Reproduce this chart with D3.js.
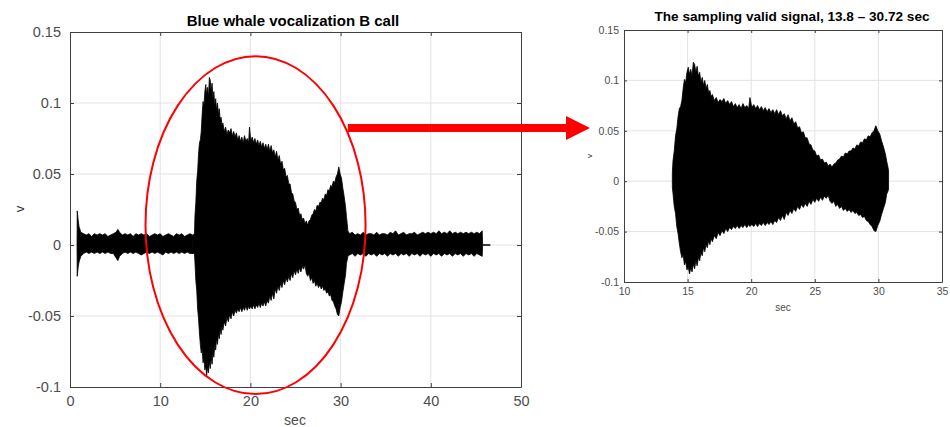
<!DOCTYPE html>
<html>
<head>
<meta charset="utf-8">
<script src="https://cdn.jsdelivr.net/npm/d3@7"></script>
<style>
  body { margin: 0; background: #fff; }
  svg { display: block; font-family: "Liberation Sans", Arial, sans-serif; }
</style>
</head>
<body>
<svg id="chart" width="950" height="427"></svg>
<script>
// titles and tick values
const leftTitle = "Blue whale vocalization B call";
const rightTitle = "The sampling valid signal, 13.8 \u2013 30.72 sec";
const leftXTicks = [0, 10, 20, 30, 40, 50];
const rightXTicks = [10, 15, 20, 25, 30, 35];
const yTicks = [-0.1, -0.05, 0, 0.05, 0.1, 0.15];

// waveform envelope: [sec, upper v, lower v]
const preNoise = [
  [0.78, 0, 0], [0.8, 0.024, -0.022], [0.9, 0.018, -0.016], [1.0, 0.013, -0.012],
  [1.2, 0.009, -0.008], [1.5, 0.008, -0.006], [1.8, 0.007, -0.005], [2.1, 0.008, -0.006],
  [2.4, 0.006, -0.005], [2.7, 0.008, -0.006], [3.0, 0.007, -0.005], [3.3, 0.008, -0.006],
  [3.6, 0.007, -0.005], [3.9, 0.008, -0.006], [4.2, 0.006, -0.005], [4.5, 0.007, -0.006],
  [4.8, 0.008, -0.006], [5.1, 0.009, -0.009], [5.3, 0.011, -0.011], [5.5, 0.009, -0.008],
  [5.8, 0.007, -0.006], [6.1, 0.008, -0.005], [6.4, 0.007, -0.006], [6.7, 0.008, -0.005],
  [7.0, 0.006, -0.006], [7.3, 0.008, -0.005], [7.6, 0.007, -0.006], [7.9, 0.008, -0.007],
  [8.2, 0.007, -0.006], [8.5, 0.008, -0.005], [8.8, 0.006, -0.006], [9.1, 0.007, -0.005],
  [9.4, 0.008, -0.006], [9.7, 0.007, -0.005], [10.0, 0.008, -0.006], [10.3, 0.006, -0.007],
  [10.6, 0.007, -0.005], [10.9, 0.008, -0.006], [11.2, 0.007, -0.005], [11.5, 0.006, -0.006],
  [11.8, 0.008, -0.005], [12.1, 0.007, -0.006], [12.4, 0.008, -0.005], [12.7, 0.006, -0.006],
  [13.0, 0.007, -0.005], [13.3, 0.008, -0.006], [13.6, 0.007, -0.006]
];

const callSignal = [
  [13.80, 0.008, -0.006], [13.85, 0.020, -0.012], [13.95, 0.030, -0.025], [14.05, 0.045, -0.032],
  [14.15, 0.052, -0.045], [14.25, 0.064, -0.052], [14.35, 0.072, -0.062], [14.45, 0.074, -0.070],
  [14.55, 0.080, -0.076], [14.65, 0.092, -0.073], [14.75, 0.101, -0.083], [14.85, 0.098, -0.080],
  [14.95, 0.108, -0.088], [15.05, 0.113, -0.085], [15.15, 0.106, -0.092], [15.25, 0.111, -0.086],
  [15.35, 0.104, -0.090], [15.45, 0.118, -0.082], [15.55, 0.116, -0.087], [15.65, 0.108, -0.079],
  [15.75, 0.114, -0.084], [15.85, 0.104, -0.076], [15.95, 0.108, -0.079], [16.05, 0.098, -0.071],
  [16.15, 0.103, -0.074], [16.25, 0.095, -0.066], [16.35, 0.100, -0.070], [16.45, 0.092, -0.063],
  [16.55, 0.096, -0.066], [16.65, 0.088, -0.059], [16.75, 0.090, -0.063], [16.85, 0.084, -0.057],
  [16.95, 0.086, -0.060], [17.10, 0.080, -0.054], [17.25, 0.083, -0.057], [17.40, 0.078, -0.051],
  [17.55, 0.081, -0.054], [17.70, 0.079, -0.049], [17.85, 0.082, -0.052], [18.00, 0.077, -0.047],
  [18.15, 0.080, -0.050], [18.30, 0.076, -0.046], [18.45, 0.079, -0.048], [18.60, 0.074, -0.045],
  [18.75, 0.077, -0.047], [18.90, 0.073, -0.044], [19.05, 0.076, -0.047], [19.20, 0.072, -0.044],
  [19.35, 0.077, -0.046], [19.50, 0.073, -0.043], [19.65, 0.075, -0.046], [19.80, 0.072, -0.043],
  [19.90, 0.083, -0.045], [20.05, 0.073, -0.043], [20.20, 0.076, -0.045], [20.35, 0.072, -0.042],
  [20.50, 0.075, -0.045], [20.65, 0.071, -0.042], [20.80, 0.074, -0.044], [20.95, 0.070, -0.041],
  [21.10, 0.073, -0.044], [21.25, 0.069, -0.041], [21.40, 0.072, -0.043], [21.55, 0.068, -0.040],
  [21.70, 0.071, -0.043], [21.85, 0.067, -0.039], [22.00, 0.071, -0.041], [22.15, 0.066, -0.036],
  [22.30, 0.070, -0.039], [22.45, 0.065, -0.034], [22.60, 0.067, -0.038], [22.75, 0.062, -0.031],
  [22.90, 0.066, -0.034], [23.05, 0.060, -0.029], [23.20, 0.063, -0.032], [23.35, 0.057, -0.027],
  [23.50, 0.059, -0.030], [23.65, 0.053, -0.025], [23.80, 0.054, -0.028], [23.95, 0.048, -0.023],
  [24.10, 0.049, -0.026], [24.25, 0.043, -0.022], [24.40, 0.043, -0.025], [24.55, 0.037, -0.020],
  [24.70, 0.036, -0.023], [24.85, 0.031, -0.018], [25.00, 0.030, -0.021], [25.15, 0.025, -0.017],
  [25.30, 0.026, -0.020], [25.45, 0.021, -0.016], [25.60, 0.022, -0.019], [25.75, 0.018, -0.015],
  [25.90, 0.019, -0.017], [26.05, 0.015, -0.014], [26.20, 0.017, -0.020], [26.35, 0.014, -0.022],
  [26.50, 0.017, -0.020], [26.65, 0.018, -0.025], [26.80, 0.021, -0.023], [26.95, 0.022, -0.027],
  [27.10, 0.025, -0.025], [27.25, 0.024, -0.029], [27.40, 0.028, -0.027], [27.55, 0.027, -0.030],
  [27.70, 0.030, -0.028], [27.85, 0.030, -0.031], [28.00, 0.033, -0.029], [28.15, 0.032, -0.032],
  [28.30, 0.036, -0.031], [28.45, 0.035, -0.034], [28.60, 0.039, -0.033], [28.75, 0.038, -0.036],
  [28.90, 0.042, -0.035], [29.05, 0.041, -0.039], [29.20, 0.045, -0.040], [29.35, 0.044, -0.043],
  [29.50, 0.048, -0.045], [29.65, 0.050, -0.049], [29.80, 0.055, -0.050], [29.95, 0.050, -0.044],
  [30.10, 0.047, -0.040], [30.25, 0.040, -0.033], [30.40, 0.034, -0.027], [30.55, 0.027, -0.021],
  [30.65, 0.020, -0.013], [30.75, 0.014, -0.010], [30.80, 0.010, -0.008]
];

const postNoise = [
  [31.0, 0.008, -0.007], [31.3, 0.009, -0.006], [31.6, 0.007, -0.008], [31.9, 0.008, -0.006],
  [32.2, 0.007, -0.007], [32.5, 0.009, -0.006], [32.8, 0.007, -0.008], [33.1, 0.008, -0.006],
  [33.4, 0.008, -0.007], [33.7, 0.007, -0.006], [34.0, 0.009, -0.008], [34.3, 0.007, -0.006],
  [34.6, 0.008, -0.007], [34.9, 0.008, -0.006], [35.2, 0.007, -0.008], [35.5, 0.009, -0.006],
  [35.8, 0.008, -0.007], [36.1, 0.010, -0.006], [36.4, 0.007, -0.008], [36.7, 0.008, -0.006],
  [37.0, 0.009, -0.007], [37.3, 0.007, -0.006], [37.6, 0.008, -0.008], [37.9, 0.008, -0.006],
  [38.2, 0.009, -0.007], [38.5, 0.007, -0.006], [38.8, 0.008, -0.008], [39.1, 0.009, -0.006],
  [39.4, 0.008, -0.007], [39.7, 0.009, -0.006], [40.0, 0.008, -0.008], [40.3, 0.009, -0.006],
  [40.6, 0.008, -0.007], [40.9, 0.010, -0.006], [41.2, 0.008, -0.008], [41.5, 0.009, -0.006],
  [41.8, 0.008, -0.007], [42.1, 0.010, -0.006], [42.4, 0.008, -0.008], [42.7, 0.009, -0.006],
  [43.0, 0.008, -0.007], [43.3, 0.009, -0.006], [43.6, 0.008, -0.008], [43.9, 0.009, -0.006],
  [44.2, 0.008, -0.007], [44.5, 0.009, -0.006], [44.8, 0.008, -0.008], [45.1, 0.009, -0.006],
  [45.4, 0.008, -0.007], [45.7, 0.010, -0.008], [45.75, 0, 0]
];
const tailLine = [[45.75, 0], [46.6, 0]];

// annotation: ellipse [center sec, center v, radius sec, radius v], arrow start [sec, v]
const ellipseMark = [20.57, 0.014, 12.2, 0.119];
const arrowStart = [30.8, 0.0824];

const svg = d3.select("#chart");
const axisColor = "#404040";
const textColor = "#4d4d4d";
const gridColor = "#e3e3e3";

const fmt = (d) => String(+d.toFixed(2)).replace("\u2212", "-");

function panel(opts) {
  const { x, y, xTicks, fontSize, tick } = opts;
  const g = svg.append("g");
  const [x0, x1] = x.range();
  const [y0, y1] = y.range();

  // grid
  g.append("g").selectAll("line").data(xTicks.slice(1, -1)).join("line")
    .attr("x1", (d) => x(d)).attr("x2", (d) => x(d))
    .attr("y1", y0).attr("y2", y1)
    .attr("stroke", gridColor).attr("stroke-width", 1);
  g.append("g").selectAll("line").data(yTicks.slice(1, -1)).join("line")
    .attr("y1", (d) => y(d)).attr("y2", (d) => y(d))
    .attr("x1", x0).attr("x2", x1)
    .attr("stroke", gridColor).attr("stroke-width", 1);

  const wave = g.append("g");

  // axes (ticks point inward, like a matlab box)
  const axB = d3.axisBottom(x).tickValues(xTicks).tickSizeInner(-tick).tickSizeOuter(0).tickPadding(opts.xPad).tickFormat(fmt);
  const axT = d3.axisTop(x).tickValues(xTicks).tickSizeInner(-tick).tickSizeOuter(0).tickFormat("");
  const axL = d3.axisLeft(y).tickValues(yTicks).tickSizeInner(-tick).tickSizeOuter(0).tickPadding(opts.yPad).tickFormat(fmt);
  const axR = d3.axisRight(y).tickValues(yTicks).tickSizeInner(-tick).tickSizeOuter(0).tickFormat("");
  const ax = g.append("g");
  ax.append("g").attr("transform", `translate(0,${y0})`).call(axB);
  ax.append("g").attr("transform", `translate(0,${y1})`).call(axT);
  ax.append("g").attr("transform", `translate(${x0},0)`).call(axL);
  ax.append("g").attr("transform", `translate(${x1},0)`).call(axR);
  ax.selectAll(".domain").attr("stroke", axisColor).attr("stroke-width", 1);
  ax.selectAll(".tick line").attr("stroke", axisColor);
  ax.selectAll(".tick text").attr("fill", textColor)
    .style("font-family", "'Liberation Sans', Arial, sans-serif")
    .style("font-size", fontSize + "px");

  return wave;
}

function drawWave(layer, x, y, rows) {
  const area = d3.area()
    .x((d) => x(d[0]))
    .y0((d) => y(d[2]))
    .y1((d) => y(d[1]));
  layer.append("path").datum(rows)
    .attr("d", area)
    .attr("fill", "#000")
    .attr("stroke", "#000")
    .attr("stroke-width", 0.8)
    .attr("stroke-linejoin", "round");
}

// left panel
const xL = d3.scaleLinear().domain([0, 50]).range([70, 521]);
const yL = d3.scaleLinear().domain([-0.1, 0.15]).range([387, 32]);
const waveL = panel({ x: xL, y: yL, xTicks: leftXTicks, fontSize: 14.5, tick: 4, xPad: 9, yPad: 9 });
drawWave(waveL, xL, yL, preNoise);
drawWave(waveL, xL, yL, [preNoise[preNoise.length - 1], ...callSignal, ...postNoise]);
waveL.append("path").datum(tailLine)
  .attr("d", d3.line().x((d) => xL(d[0])).y((d) => yL(d[1])))
  .attr("stroke", "#000").attr("stroke-width", 1.5).attr("fill", "none");

svg.append("text").attr("x", 293).attr("y", 26).attr("text-anchor", "middle")
  .style("font-size", "15px").style("font-weight", "bold").attr("fill", "#000")
  .text(leftTitle);
svg.append("text").attr("x", 295).attr("y", 425).attr("text-anchor", "middle")
  .style("font-size", "14px").attr("fill", textColor).text("sec");
svg.append("text").attr("transform", "translate(24,209) rotate(-90)").attr("text-anchor", "middle")
  .style("font-size", "13px").attr("fill", "#333").text("v");

// right panel
const xR = d3.scaleLinear().domain([10, 35]).range([624, 942]);
const yR = d3.scaleLinear().domain([-0.1, 0.15]).range([282, 30]);
const waveR = panel({ x: xR, y: yR, xTicks: rightXTicks, fontSize: 10.5, tick: 3, xPad: 6, yPad: 5 });
drawWave(waveR, xR, yR, callSignal);

svg.append("text").attr("x", 792).attr("y", 21).attr("text-anchor", "middle")
  .style("font-size", "13.6px").style("font-weight", "bold").attr("fill", "#000")
  .text(rightTitle);
svg.append("text").attr("x", 783).attr("y", 311).attr("text-anchor", "middle")
  .style("font-size", "10px").attr("fill", textColor).text("sec");
svg.append("text").attr("transform", "translate(592,156) rotate(-90)").attr("text-anchor", "middle")
  .style("font-size", "8px").attr("fill", "#333").text("v");

// red ellipse around the call
svg.append("ellipse")
  .attr("cx", xL(ellipseMark[0])).attr("cy", yL(ellipseMark[1]))
  .attr("rx", xL(ellipseMark[2]) - xL(0)).attr("ry", yL(0) - yL(ellipseMark[3]))
  .attr("fill", "none").attr("stroke", "#f00").attr("stroke-width", 2);

// red arrow to the zoomed panel
const ax0 = xL(arrowStart[0]);
const ay = yL(arrowStart[1]);
const tipX = xR(10) - 34;
const headW = 24;
svg.append("rect").attr("x", ax0).attr("y", ay - 4).attr("width", tipX - headW - ax0 + 1).attr("height", 8)
  .attr("fill", "#f00");
svg.append("path")
  .attr("d", `M${tipX - headW},${ay - 12}L${tipX},${ay}L${tipX - headW},${ay + 12}Z`)
  .attr("fill", "#f00");
</script>
</body>
</html>
